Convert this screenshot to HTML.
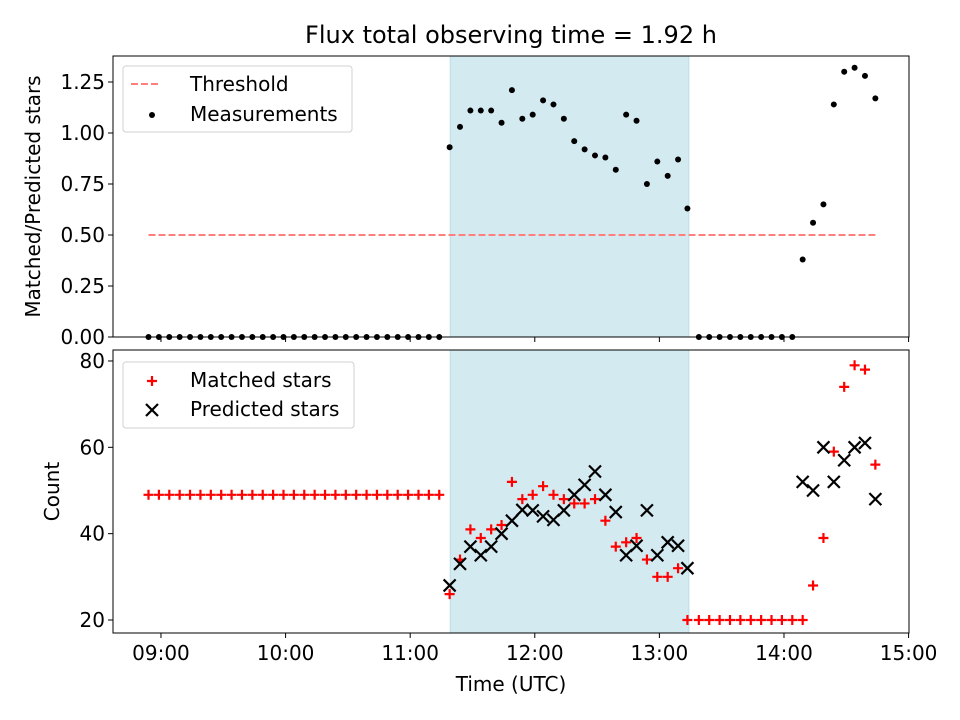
<!DOCTYPE html>
<html><head><meta charset="utf-8"><style>
body{margin:0;background:#fff}
svg{display:block;font-family:"DejaVu Sans","Liberation Sans",sans-serif}
</style></head><body>
<svg id="chart" width="960" height="720" viewBox="0 0 960 720" xmlns="http://www.w3.org/2000/svg"></svg>
<script>
// times in minutes since 00:00 UTC
const times=[534,539,544,549,554,559,564,569,574,579,584,589,594,599,604,609,614,619,624,629,634,639,644,649,654,659,664,669,674,
679,684,689,694,699,704,709,714,719,724,729,734,739,744,749,754,759,764,769,774,779,784,789,793.5,
799,804,809,814,819,824,829,834,839,844,
849,854,859,864,869,874,879,884];
const ratios=[0,0,0,0,0,0,0,0,0,0,0,0,0,0,0,0,0,0,0,0,0,0,0,0,0,0,0,0,0,
0.93,1.03,1.11,1.11,1.11,1.05,1.21,1.07,1.09,1.16,1.14,1.07,0.96,0.92,0.89,0.88,0.82,1.09,1.06,0.75,0.86,0.79,0.87,0.63,
0,0,0,0,0,0,0,0,0,0,
0.38,0.56,0.65,1.14,1.30,1.32,1.28,1.17];
const matched=[49,49,49,49,49,49,49,49,49,49,49,49,49,49,49,49,49,49,49,49,49,49,49,49,49,49,49,49,49,
26,34,41,39,41,42,52,48,49,51,49,48,47,47,48,43,37,38,39,34,30,30,32,20,
20,20,20,20,20,20,20,20,20,20,
20,28,39,59,74,79,78,56];
const predicted=[null,null,null,null,null,null,null,null,null,null,null,null,null,null,null,null,null,null,null,null,null,null,null,null,null,null,null,null,null,
28,33,37,35,37,40,43,45.5,45.4,44,43.2,45.4,49,51.3,54.4,49,45,35,37.2,45.4,35,38,37.2,32,
null,null,null,null,null,null,null,null,null,null,
52,50,60,52,57,60,61,48];
const threshold=0.5;
const shadeStart=679.3, shadeEnd=794.2;
const xTicks=[540,600,660,720,780,840,900];
const xTickLabels=["09:00","10:00","11:00","12:00","13:00","14:00","15:00"];
const topTicks=[0,0.25,0.5,0.75,1.0,1.25];
const topTickLabels=["0.00","0.25","0.50","0.75","1.00","1.25"];
const botTicks=[20,40,60,80];
const botTickLabels=["20","40","60","80"];

const NS="http://www.w3.org/2000/svg";
const svg=document.getElementById('chart');
const L=113,R=909;
const T1=56,B1=337,T2=350,B2=633;
const xmin=516.9,xmax=900.2;
const FS=20;
const x=t=>L+(t-xmin)/(xmax-xmin)*(R-L);
const y1=v=>337-v*204;
const y2=v=>620-(v-20)*4.317;
function el(tag,attrs,parent){const e=document.createElementNS(NS,tag);for(const k in attrs)e.setAttribute(k,attrs[k]);(parent||svg).appendChild(e);return e;}
function txt(s,attrs,parent){const e=el('text',attrs,parent);e.textContent=s;return e;}

// title
const title=txt("Flux total observing time = 1.92 h",{x:511,y:43,'font-size':24,'text-anchor':'middle',fill:'#000'});



function panel(T,B,name){
  const g=el('g',{});
  
  
  const sh=el('rect',{x:x(shadeStart),y:T,width:x(shadeEnd)-x(shadeStart),height:B-T,fill:'#d4eaf1',stroke:'#b9dde9','stroke-width':1},g);
  
  
  return g;
}
const gTop=panel(T1,B1,'ratio-panel');
const gBot=panel(T2,B2,'count-panel');

// threshold
const th=el('line',{x1:x(times[0]),x2:x(times[times.length-1]),y1:y1(threshold),y2:y1(threshold),stroke:'#ff7f7f','stroke-width':2,'stroke-dasharray':'7,3'},gTop);



// measurements
times.forEach((t,i)=>{
  const c=el('circle',{cx:x(t),cy:y1(ratios[i]),r:3,fill:'#000'},gTop);
  
  
});
function plus(cx,cy,parent,color,s){return el('path',{d:`M${cx-s},${cy}H${cx+s}M${cx},${cy-s}V${cy+s}`,stroke:color,'stroke-width':2.2,fill:'none'},parent);}
function cross(cx,cy,parent,s){return el('path',{d:`M${cx-s},${cy-s}L${cx+s},${cy+s}M${cx-s},${cy+s}L${cx+s},${cy-s}`,stroke:'#000','stroke-width':2.2,fill:'none'},parent);}
times.forEach((t,i)=>{
  const p=plus(x(t),y2(matched[i]),gBot,'#ff0000',5);
  
  
});
times.forEach((t,i)=>{
  if(predicted[i]==null)return;
  const p=cross(x(t),y2(predicted[i]),gBot,6);
  
  
});

// axes frames
[[T1,B1,'ratio-axes-frame'],[T2,B2,'count-axes-frame']].forEach(([T,B,n])=>{
  const r=el('rect',{x:L,y:T,width:R-L,height:B-T,fill:'none',stroke:'#000','stroke-width':1});
  
  
});
xTicks.forEach((t,i)=>{
  el('line',{x1:x(t),x2:x(t),y1:B1,y2:B1+5,stroke:'#000','stroke-width':1});
  el('line',{x1:x(t),x2:x(t),y1:B2,y2:B2+5,stroke:'#000','stroke-width':1});
  const lb=txt(xTickLabels[i],{x:x(t),y:B2+27,'font-size':FS,'text-anchor':'middle'});
  
  
});
topTicks.forEach((v,i)=>{
  el('line',{x1:L-5,x2:L,y1:y1(v),y2:y1(v),stroke:'#000','stroke-width':1});
  const lb=txt(topTickLabels[i],{x:L-8,y:y1(v)+7,'font-size':FS,'text-anchor':'end'});
  
  
});
botTicks.forEach((v,i)=>{
  el('line',{x1:L-5,x2:L,y1:y2(v),y2:y2(v),stroke:'#000','stroke-width':1});
  const lb=txt(botTickLabels[i],{x:L-8,y:y2(v)+7,'font-size':FS,'text-anchor':'end'});
  
  
});
const xt=txt("Time (UTC)",{x:511,y:691,'font-size':FS,'text-anchor':'middle'});


const yt1=txt("Matched/Predicted stars",{x:0,y:0,'font-size':FS,'text-anchor':'middle',transform:`translate(40,${(T1+B1)/2}) rotate(-90)`});


const yt2=txt("Count",{x:0,y:0,'font-size':FS,'text-anchor':'middle',transform:`translate(59,${(T2+B2)/2}) rotate(-90)`});



function legend(y0,w,name){
  const g=el('g',{});
  
  
  el('rect',{x:123,y:y0,width:w,height:66,rx:3,fill:'#fff','fill-opacity':0.8,stroke:'#d0d0d0','stroke-width':1},g);
  return g;
}
const lg1=legend(66,229,'ratio-legend');
el('line',{x1:131,x2:159,y1:84,y2:84,stroke:'#ff7f7f','stroke-width':2,'stroke-dasharray':'7,3'},lg1);
const l1=txt("Threshold",{x:190,y:91,'font-size':FS},lg1);


el('circle',{cx:152,cy:115,r:3,fill:'#000'},lg1);
const l2=txt("Measurements",{x:190,y:121,'font-size':FS},lg1);



const lg2=legend(362,231,'count-legend');
plus(152,381,lg2,'#ff0000',5);
const l3=txt("Matched stars",{x:190,y:387,'font-size':FS},lg2);


cross(152,410,lg2,6);
const l4=txt("Predicted stars",{x:190,y:416,'font-size':FS},lg2);


</script>
</body></html>
